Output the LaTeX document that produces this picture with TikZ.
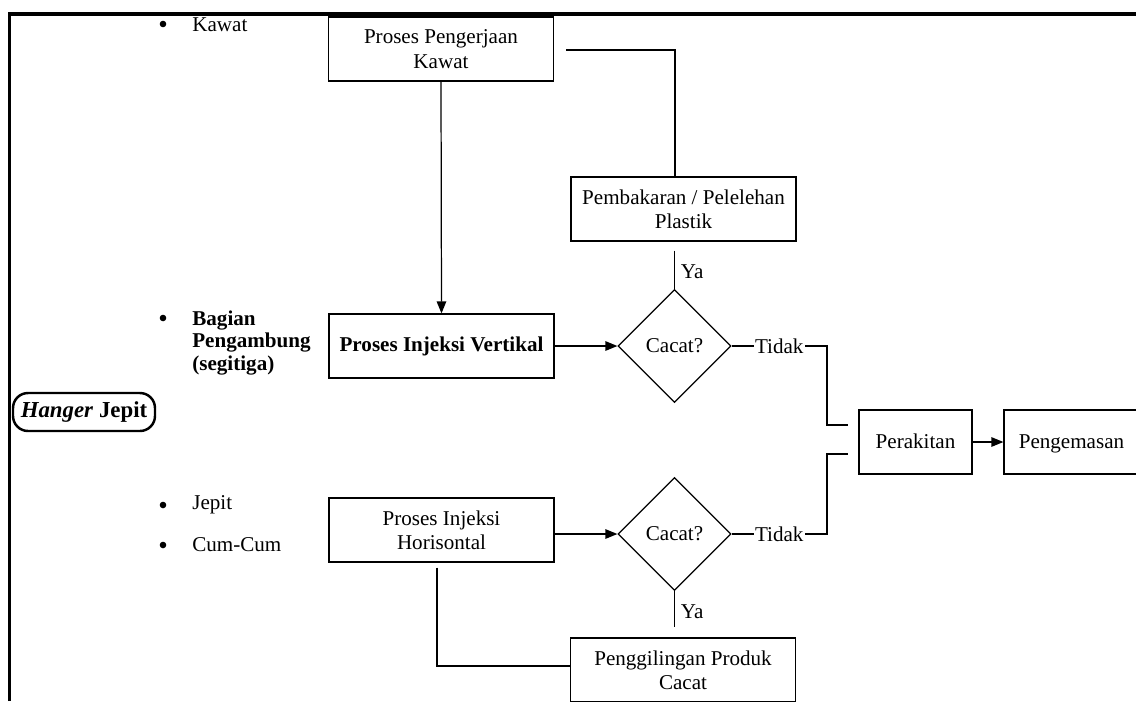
\documentclass[tikz,border=0pt]{standalone}
\usepackage{fontspec}
\setmainfont{Liberation Serif}
\usepackage{xcolor}
\usepackage{tikz}
\usetikzlibrary{calc, shapes.geometric, positioning, arrows.meta}

\tikzset{
    kotak/.style={rectangle, draw, line width=0.7pt, minimum width=4.5cm,
                  minimum height=1.28cm, align=center, inner sep=2pt},
    keputusan/.style={diamond, draw, line width=0.7pt, minimum width=2.26cm,
                      minimum height=2.26cm, aspect=1, inner sep=0pt},
    garis/.style={line width=0.7pt},
    panah/.style={garis, -{Triangle[length=0.24cm, width=0.19cm]}},
    ket/.style={fill=white, inner sep=0.6pt},
    butir/.style={anchor=west, inner sep=0pt, align=left}
}

\begin{document}
\begin{tikzpicture}[x=0.02cm, y=-0.02cm, font=\fontsize{12}{13.8}\selectfont]
        \useasboundingbox (0,0) rectangle (1136,701);
        \clip (0,0) rectangle (1136,701);

        % bingkai
        \draw[line width=2pt] (9.5,701) -- (9.5,14) -- (1136,14);

        % jenis produk dan komponennya
        \node[rectangle, rounded corners=0.3cm, draw, line width=1.4pt,
              minimum width=2.84cm, minimum height=0.76cm, inner sep=1pt,
              font=\fontsize{13}{15}\selectfont] (hanger) at (84,412)
              {\textbf{\textit{Hanger} Jepit}};

        \foreach \y in {24,318,505,545}
            \fill (163,\y) circle (0.066cm);
        \node[butir] (itemKawat) at (192,25) {Kawat};
        \node[butir, font=\fontsize{12}{12.6}\selectfont\bfseries] (itemSegitiga) at (192,343)
              {Bagian\\Pengambung\\(segitiga)};
        \node[butir] (itemJepit) at (192,505) {Jepit};
        \node[butir] (itemCum) at (192,545) {Cum-Cum};

        % proses
        \node[kotak] (kawat) at (441,49) {Proses Pengerjaan\\Kawat};
        \node[kotak] (plastik) at (683.5,209) {Pembakaran / Pelelehan\\Plastik};
        \node[kotak, font=\fontsize{12}{13.8}\selectfont\bfseries] (vertikal) at (441.5,346)
              {Proses Injeksi Vertikal};
        \node[keputusan] (cek1) at (674.5,346) {Cacat?};
        \node[kotak] (horisontal) at (441.5,530) {Proses Injeksi\\Horisontal};
        \node[keputusan] (cek2) at (674.5,534) {Cacat?};
        \node[kotak] (giling) at (683,670) {Penggilingan Produk\\Cacat};
        \node[kotak, minimum width=2.26cm, text height=1.9ex, text depth=0.2ex] (rakit) at (915.5,442) {Perakitan};
        \node[kotak, minimum width=2.7cm, text height=1.9ex, text depth=0.2ex] (kemas) at (1071.5,442) {Pengemasan};

        \coordinate (atas) at (675,50);
        \coordinate (sudut1) at (827,425);
        \coordinate (sudut2) at (827,454);
        \coordinate (bawah) at (437,666);

        % alur
        \draw[panah] (kawat.south) -- (vertikal.north);
        \draw[garis, shorten <=0.24cm] (kawat.east |- atas) -- (atas) -- (atas |- plastik.north);
        \draw[garis, shorten <=0.18cm] (cek1.north |- plastik.south) -- node[right, pos=0.63] {Ya} (cek1.north);
        \draw[panah] (vertikal.east) -- (cek1.west);
        \draw[garis, shorten >=0.2cm] (cek1.east) -- node[ket] {Tidak} (cek1.east -| sudut1)
              -- (sudut1) -- (sudut1 -| rakit.west);

        \draw[panah] (horisontal.east |- cek2) -- (cek2.west);
        \draw[garis, shorten >=0.2cm] (cek2.east) -- node[ket] {Tidak} (cek2.east -| sudut2)
              -- (sudut2) -- (sudut2 -| rakit.west);
        \draw[garis, shorten >=0.2cm] (cek2.south) -- node[right, pos=0.45] {Ya} (cek2.south |- giling.north);
        \draw[garis, shorten <=0.1cm] (bawah |- horisontal.south) -- (bawah) -- (bawah -| giling.west);

        \draw[panah] (rakit) -- (kemas);
\end{tikzpicture}
\end{document}
